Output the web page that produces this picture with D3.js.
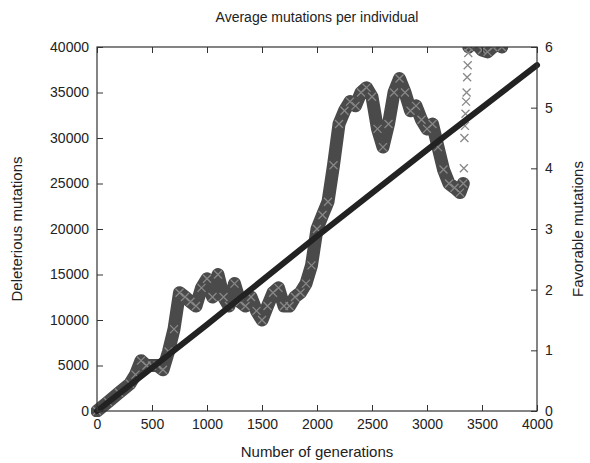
<!DOCTYPE html>
<html><head><meta charset="utf-8">
<script src="https://cdn.jsdelivr.net/npm/d3@7"></script>
<style>body{margin:0;background:#fff}text{font-family:"Liberation Sans",Arial,sans-serif;fill:#222}</style>
</head><body><svg id="chart" width="590" height="463"></svg>
<script>
// deleterious mutations (left axis)
var delGens = [0, 1000, 2000, 3000, 4000];
var delVals = [0, 9500, 19200, 28700, 38000];
// favorable mutations (right axis)
var favGens = [0,100,200,300,350,400,450,500,550,600,650,700,750,800,850,900,950,1000,1050,1100,1150,1200,1250,1300,1350,1400,1450,1500,1550,1600,1650,1700,1750,1800,1850,1900,1950,2000,2050,2100,2150,2200,2250,2300,2350,2400,2450,2500,2550,2600,2650,2700,2750,2800,2850,2900,2950,3000,3050,3100,3150,3200,3250,3300,3330,
  3335,3340,3345,3350,3355,3360,3365,3370,3375,3380,3400,3450,3500,3550,3600,3650,3680];
var favVals = [0,.15,.30,.45,.60,.83,.75,.75,.75,.68,.98,1.35,1.95,1.88,1.80,1.73,2.03,2.18,1.88,2.25,1.88,1.73,2.10,1.80,1.73,1.88,1.65,1.50,1.73,1.95,2.03,1.73,1.73,1.88,1.95,2.10,2.40,3.00,3.23,3.45,4.05,4.73,4.95,5.10,5.03,5.25,5.33,5.18,4.65,4.35,4.73,5.25,5.48,5.25,4.95,5.03,4.80,4.65,4.73,4.35,3.98,3.75,3.68,3.60,3.75,
  4.0,4.5,4.7,4.9,5.1,5.25,5.5,5.7,5.9,6.0,6.1,6.05,5.95,5.92,6.0,6.05,6.0];
var xTicks = [0,500,1000,1500,2000,2500,3000,3500,4000];
var yTicks = [0,5000,10000,15000,20000,25000,30000,35000,40000];
var y2Ticks = [0,1,2,3,4,5,6];

var L=97,R=537,T=47,B=411;
var svg=d3.select("#chart");
var x=d3.scaleLinear().domain([0,4000]).range([L,R]);
var y=d3.scaleLinear().domain([0,40000]).range([B,T]);
var y2=d3.scaleLinear().domain([0,6]).range([B,T]);

svg.append("clipPath").attr("id","clip").append("rect").attr("x",L-6).attr("y",T).attr("width",R-L+12).attr("height",B-T+6);
var g=svg.append("g").attr("clip-path","url(#clip)");

var pts=favGens.map((d,i)=>[d,favVals[i]]);
var band=d3.line().x(d=>x(d[0])).y(d=>y2(d[1]));
[pts.filter(d=>d[0]<=3330), pts.filter(d=>d[0]>=3380)].forEach(seg=>{
  g.append("path").attr("d",band(seg)).attr("fill","none").attr("stroke","#4a4a4a").attr("stroke-width",13).attr("stroke-linejoin","round").attr("stroke-linecap","round");
});
var s=4;
g.selectAll(".fx").data(pts).join("path")
  .attr("d",d=>{var cx=x(d[0]),cy=y2(d[1]);return `M${cx-s},${cy-s}L${cx+s},${cy+s}M${cx-s},${cy+s}L${cx+s},${cy-s}`;})
  .attr("stroke","#888").attr("stroke-width",1.3);

g.append("path").attr("d",d3.line().x((d,i)=>x(delGens[i])).y(d=>y(d))(delVals))
  .attr("fill","none").attr("stroke","#222").attr("stroke-width",6).attr("stroke-linecap","round");

svg.append("rect").attr("x",L).attr("y",T).attr("width",R-L).attr("height",B-T).attr("fill","none").attr("stroke","#333").attr("stroke-width",1.2);

function ax(a){a.select(".domain").remove();a.selectAll("text").style("font-size","14px").style("fill","#222");a.selectAll("line").attr("stroke","#333");}
svg.append("g").attr("transform",`translate(0,${B})`).call(d3.axisBottom(x).tickValues(xTicks).tickSize(-6).tickPadding(8).tickFormat(d3.format("d"))).call(ax);
svg.append("g").attr("transform",`translate(0,${T})`).call(d3.axisTop(x).tickValues(xTicks).tickSize(-6).tickFormat("")).call(ax);
svg.append("g").attr("transform",`translate(${L},0)`).call(d3.axisLeft(y).tickValues(yTicks).tickSize(-6).tickPadding(8).tickFormat(d3.format("d"))).call(ax);
svg.append("g").attr("transform",`translate(${R},0)`).call(d3.axisRight(y2).tickValues(y2Ticks).tickSize(-6).tickPadding(8).tickFormat(d3.format("d"))).call(ax);

svg.append("text").attr("x",317).attr("y",22).attr("text-anchor","middle").style("font-size","14px").text("Average mutations per individual");
svg.append("text").attr("x",317).attr("y",457).attr("text-anchor","middle").style("font-size","15px").text("Number of generations");
svg.append("text").attr("transform","translate(22,229)rotate(-90)").attr("text-anchor","middle").style("font-size","15px").text("Deleterious mutations");
svg.append("text").attr("transform","translate(583,229)rotate(-90)").attr("text-anchor","middle").style("font-size","15px").text("Favorable mutations");
</script></body></html>
